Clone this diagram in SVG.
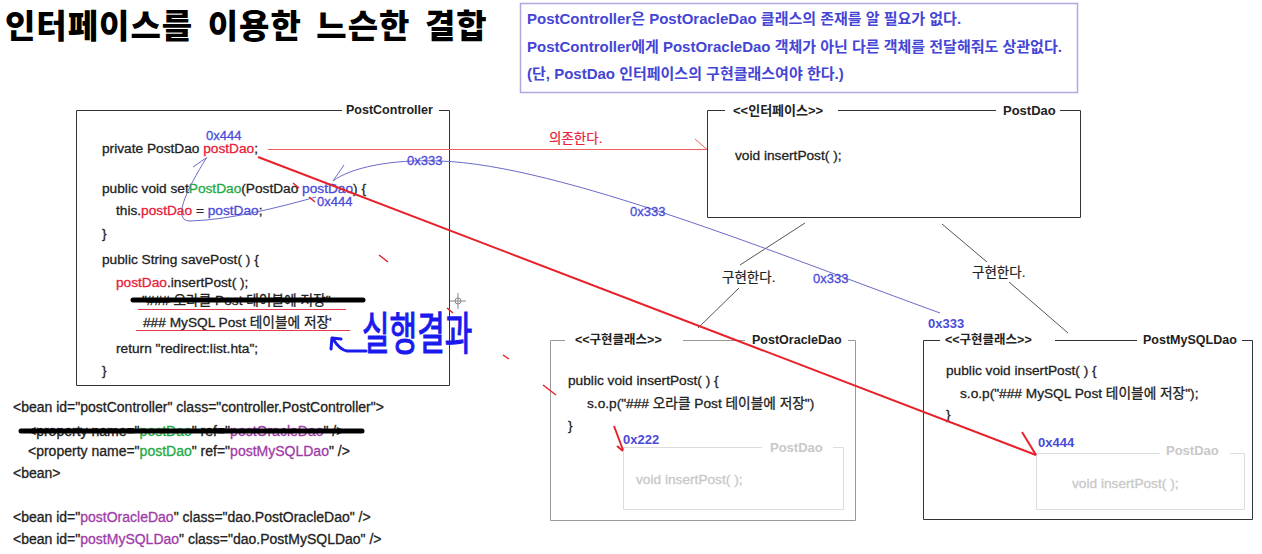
<svg xmlns="http://www.w3.org/2000/svg" width="1262" height="554" viewBox="0 0 1262 554">
<style>
text{font-family:"Liberation Sans","Noto Sans CJK KR",sans-serif}
.code{font-size:13.7px;fill:#222;stroke:#222;stroke-width:0.3}
.xml{font-size:14px;fill:#222;stroke:#222;stroke-width:0.3}
.hdr{font-size:12.5px;font-weight:bold;fill:#222}
.note{font-size:15px;font-weight:bold;fill:#4545d5}
.lbl{font-size:13.5px;fill:#222;stroke:#222;stroke-width:0.2}
.addr{font-size:13px;fill:#4a4ad8;stroke:#4a4ad8;stroke-width:0.3}
.addrb{font-size:13px;font-weight:bold;fill:#4a4ad8}
.red{fill:#e8203a;stroke:#e8203a}
.grn{fill:#22aa44;stroke:#22aa44}
.blu{fill:#4a4ad8;stroke:#4a4ad8}
.pur{fill:#a03ca8;stroke:#a03ca8}
.ghost{fill:#c8c8c8;stroke:#c8c8c8}
.box{fill:none;stroke:#333;stroke-width:1}
.gbox{fill:none;stroke:#999;stroke-width:1}
.lbox{fill:none;stroke:#dcdcdc;stroke-width:1}
.strike{stroke:#000;stroke-width:5;stroke-linecap:round}
.rthin{stroke:#f06060;stroke-width:1;fill:none}
.rthick{stroke:#e8202a;stroke-width:2;fill:none}
.bthin{stroke:#6a6ac8;stroke-width:1;fill:none}
.impl{stroke:#555;stroke-width:1;fill:none}
</style>

<g id="title">
<text x="5" y="38" style="font-family:'Noto Sans CJK KR',sans-serif;font-size:33px;font-weight:900;letter-spacing:1px;word-spacing:6px;fill:#000">인터페이스를 이용한 느슨한 결합</text>
</g>

<g id="note">
<rect x="520.5" y="3.5" width="557" height="89" fill="#fff" stroke="#b0a8e0" stroke-width="1.5"/>
<text class="note" x="527" y="24">PostController은 PostOracleDao 클래스의 존재를 알 필요가 없다.</text>
<text class="note" x="527" y="52">PostController에게 PostOracleDao 객체가 아닌 다른 객체를 전달해줘도 상관없다.</text>
<text class="note" x="527" y="79">(단, PostDao 인터페이스의 구현클래스여야 한다.)</text>
</g>

<g id="postController">
<path class="box" d="M342 110.5 H76.5 V385.5 H449.5 V110.5 H439"/>
<text class="hdr" x="346" y="114">PostController</text>
<text class="code" x="102" y="153">private PostDao <tspan class="red">postDao</tspan>;</text>
<text class="code" x="102" y="193">public void set<tspan class="grn">PostDao</tspan>(PostDao <tspan class="blu">postDao</tspan>) {</text>
<text class="code" x="116" y="215">this.<tspan class="red">postDao</tspan> = <tspan class="blu">postDao</tspan>;</text>
<text class="code" x="102" y="238">}</text>
<text class="code" x="102" y="264">public String savePost( ) {</text>
<text class="code" x="116" y="287"><tspan class="red">postDao</tspan>.insertPost( );</text>
<text class="code" x="142" y="305">"### 오라클 Post 테이블에 저장"</text>
<line class="strike" x1="133" y1="300" x2="363" y2="300"/>
<line x1="138" y1="309.5" x2="346" y2="309.5" stroke="#e83a4a" stroke-width="1"/>
<text class="code" x="143" y="327">### MySQL Post 테이블에 저장'</text>
<line x1="136" y1="330.5" x2="350" y2="330.5" stroke="#e83a4a" stroke-width="1"/>
<text class="code" x="116" y="353">return "redirect:list.hta";</text>
<text class="code" x="102" y="375">}</text>
</g>

<g id="postDao">
<path class="box" d="M725 110.5 H707.5 V217.5 H1080.5 V110.5 H1060 M838 110.5 H996"/>
<text class="hdr" x="733" y="115" style="font-size:13px">&lt;&lt;인터페이스&gt;&gt;</text>
<text class="hdr" x="1003" y="115" style="font-size:13px">PostDao</text>
<text class="code" x="735" y="160">void insertPost( );</text>
</g>

<g id="postOracleDao">
<path class="gbox" d="M565 340.5 H550.5 V520.5 H855.5 V340.5 H848 M683 340.5 H745"/>
<text class="hdr" x="575" y="344">&lt;&lt;구현클래스&gt;&gt;</text>
<text class="hdr" x="752" y="344">PostOracleDao</text>
<text class="code" x="568" y="385">public void insertPost( ) {</text>
<text class="code" x="587" y="408">s.o.p("### 오라클 Post 테이블에 저장")</text>
<text class="code" x="568" y="430">}</text>
<path class="lbox" d="M762 447.5 H623.5 V509.5 H843.5 V447.5 H833"/>
<text class="hdr ghost" x="770" y="452" style="font-size:13px;stroke-width:0">PostDao</text>
<text class="code ghost" x="636" y="484">void insertPost( );</text>
<text class="addrb" x="623" y="444">0x222</text>
</g>

<g id="postMySQLDao">
<path class="box" d="M940 340.5 H923.5 V519.5 H1252.5 V340.5 H1242 M1055 340.5 H1137"/>
<text class="hdr" x="945" y="344">&lt;&lt;구현클래스&gt;&gt;</text>
<text class="hdr" x="1143" y="344">PostMySQLDao</text>
<text class="code" x="946" y="375">public void insertPost( ) {</text>
<text class="code" x="960" y="398">s.o.p("### MySQL Post 테이블에 저장");</text>
<text class="code" x="946" y="419">}</text>
<path class="lbox" d="M1160 453.5 H1036.5 V509.5 H1244.5 V453.5 H1230"/>
<text class="hdr ghost" x="1166" y="455" style="font-size:13px;stroke-width:0">PostDao</text>
<text class="code ghost" x="1072" y="488">void insertPost( );</text>
<text class="addrb" x="1038" y="447">0x444</text>
</g>

<g id="beanXml">
<text class="xml" x="13" y="412">&lt;bean id="postController" class="controller.PostController"&gt;</text>
<text class="xml" x="28" y="436">&lt;property name="<tspan class="grn">postDao</tspan>" ref="<tspan class="pur">postOracleDao</tspan>" /&gt;</text>
<line class="strike" x1="21" y1="431" x2="362" y2="431"/>
<text class="xml" x="28" y="456">&lt;property name="<tspan class="grn">postDao</tspan>" ref="<tspan class="pur">postMySQLDao</tspan>" /&gt;</text>
<text class="xml" x="13" y="478">&lt;bean&gt;</text>
<text class="xml" x="13" y="522">&lt;bean id="<tspan class="pur">postOracleDao</tspan>" class="dao.PostOracleDao" /&gt;</text>
<text class="xml" x="13" y="544">&lt;bean id="<tspan class="pur">postMySQLDao</tspan>" class="dao.PostMySQLDao" /&gt;</text>
</g>

<g id="connectors">
<line class="rthin" x1="268" y1="149.5" x2="707" y2="149.5"/>
<line class="rthin" x1="695" y1="139" x2="707" y2="149.5"/>
<text x="549" y="143" style="font-size:13.5px;stroke-width:0.2" class="red">의존한다.</text>
<path class="impl" d="M805 223 L740 265 M739 288 L698 328"/>
<text class="lbl" x="722" y="282">구현한다.</text>
<path class="impl" d="M942 224 L987 262 M1009 282 L1068 333"/>
<text class="lbl" x="972" y="277">구현한다.</text>
<path class="bthin" d="M940 313 C780 255 560 165 440 161 C390 159 350 168 333 181"/>
<line class="bthin" x1="344" y1="165" x2="333" y2="181"/>
<text class="addr" x="407" y="165">0x333</text>
<text class="addr" x="630" y="216">0x333</text>
<text class="addr" x="813" y="283">0x333</text>
<text class="addrb" x="928" y="328">0x333</text>
<path class="bthin" d="M316 197 C280 207 230 220 190 221 C175 221 180 200 207 157"/>
<line class="bthin" x1="193" y1="167" x2="206" y2="158"/>
<text class="addr" x="206" y="140">0x444</text>
<text class="addr" x="317" y="206">0x444</text>
<line class="rthick" x1="258" y1="157" x2="1036" y2="455"/>
<line class="rthick" x1="1022" y1="432" x2="1036" y2="455"/>
<line class="rthick" x1="614" y1="426" x2="623" y2="450"/>
<line class="rthick" x1="617" y1="446" x2="623" y2="451"/>
</g>

<g id="annotations">
<g stroke="#e8202a" stroke-width="1.5">
<line x1="293" y1="183" x2="299" y2="188"/>
<line x1="309" y1="197" x2="315" y2="202"/>
<line x1="379" y1="255" x2="388" y2="262"/>
<line x1="447" y1="308" x2="453" y2="313"/>
<line x1="503" y1="355" x2="509" y2="359"/>
<line x1="543" y1="385" x2="556" y2="395"/>
</g>
<g stroke="#888" stroke-width="1" fill="none">
<line x1="450" y1="301" x2="466" y2="301"/>
<line x1="458" y1="293" x2="458" y2="309"/>
<circle cx="458" cy="301" r="3"/>
</g>
<path d="M366 351 L347 351 Q340 350 333 339 M331 349 L332 338 L341 339" fill="none" stroke="#1a1aee" stroke-width="3" stroke-linecap="round" stroke-linejoin="round"/>
<text transform="translate(362 350) scale(1 1.5)" x="0" y="0" style="font-size:30px;fill:#1a1aee;stroke:#1a1aee;stroke-width:0.8">실행결과</text>
</g>
</svg>
